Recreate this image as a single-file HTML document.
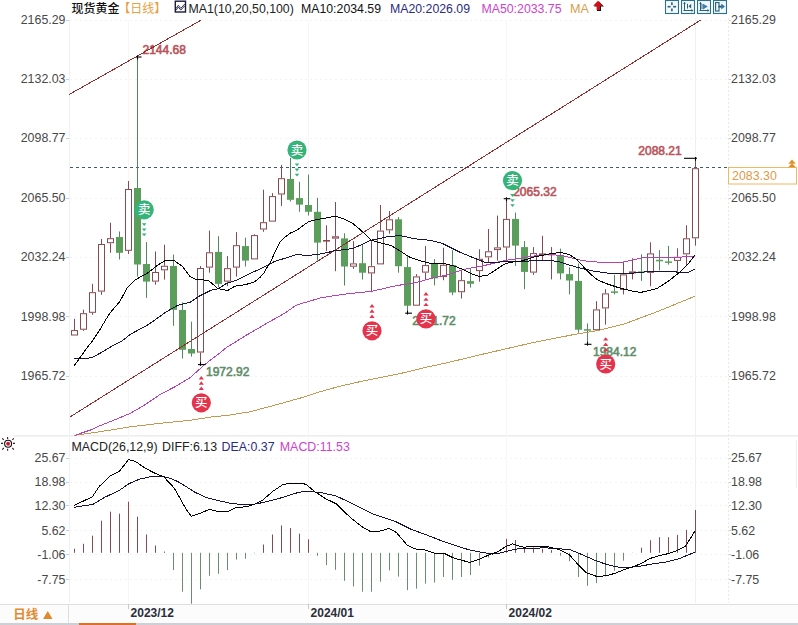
<!DOCTYPE html><html><head><meta charset="utf-8"><style>
html,body{margin:0;padding:0;background:#fff;width:798px;height:625px;overflow:hidden}
svg{display:block;position:absolute;left:0;top:0}
text{font-family:"Liberation Sans", "Noto Sans CJK SC", sans-serif}
</style></head><body>
<svg width="798" height="625" viewBox="0 0 798 625">
<rect x="0" y="0" width="798" height="625" fill="#fff"/>
<rect x="0" y="604" width="798" height="19" fill="#fcfcfc"/>
<rect x="0" y="604" width="798" height="1" fill="#dedede"/>
<rect x="0" y="623" width="798" height="2" fill="#cdd1d6"/>
<rect x="79" y="623" width="57" height="2" fill="#dc7028"/>
<rect x="68" y="605" width="1" height="18" fill="#dedede"/>
<rect x="14" y="435" width="784" height="1.5" fill="#ececec"/>
<line x1="69.5" y1="18" x2="69.5" y2="603" stroke="#f0f1f4" stroke-width="1"/>
<line x1="728.5" y1="18" x2="728.5" y2="603" stroke="#e8e8e8" stroke-width="1" stroke-dasharray="2,2"/>
<line x1="695.5" y1="18" x2="695.5" y2="603" stroke="#f0f0f0" stroke-width="1"/>
<line x1="70" y1="20.5" x2="728" y2="20.5" stroke="#f3f3f3" stroke-width="1" stroke-dasharray="2,3"/>
<line x1="70" y1="79.5" x2="728" y2="79.5" stroke="#f3f3f3" stroke-width="1" stroke-dasharray="2,3"/>
<line x1="70" y1="138.5" x2="728" y2="138.5" stroke="#f3f3f3" stroke-width="1" stroke-dasharray="2,3"/>
<line x1="70" y1="198.5" x2="728" y2="198.5" stroke="#f3f3f3" stroke-width="1" stroke-dasharray="2,3"/>
<line x1="70" y1="257.5" x2="728" y2="257.5" stroke="#f3f3f3" stroke-width="1" stroke-dasharray="2,3"/>
<line x1="70" y1="316.5" x2="728" y2="316.5" stroke="#f3f3f3" stroke-width="1" stroke-dasharray="2,3"/>
<line x1="70" y1="376.5" x2="728" y2="376.5" stroke="#f3f3f3" stroke-width="1" stroke-dasharray="2,3"/>
<line x1="70" y1="458.5" x2="728" y2="458.5" stroke="#f3f3f3" stroke-width="1" stroke-dasharray="2,3"/>
<line x1="66" y1="458.5" x2="69" y2="458.5" stroke="#c8d0d8" stroke-width="1"/>
<line x1="729" y1="458.5" x2="731" y2="458.5" stroke="#c8c8c8" stroke-width="1"/>
<line x1="70" y1="482.5" x2="728" y2="482.5" stroke="#f3f3f3" stroke-width="1" stroke-dasharray="2,3"/>
<line x1="66" y1="482.5" x2="69" y2="482.5" stroke="#c8d0d8" stroke-width="1"/>
<line x1="729" y1="482.5" x2="731" y2="482.5" stroke="#c8c8c8" stroke-width="1"/>
<line x1="70" y1="505.5" x2="728" y2="505.5" stroke="#f3f3f3" stroke-width="1" stroke-dasharray="2,3"/>
<line x1="66" y1="505.5" x2="69" y2="505.5" stroke="#c8d0d8" stroke-width="1"/>
<line x1="729" y1="505.5" x2="731" y2="505.5" stroke="#c8c8c8" stroke-width="1"/>
<line x1="70" y1="530.5" x2="728" y2="530.5" stroke="#f3f3f3" stroke-width="1" stroke-dasharray="2,3"/>
<line x1="66" y1="530.5" x2="69" y2="530.5" stroke="#c8d0d8" stroke-width="1"/>
<line x1="729" y1="530.5" x2="731" y2="530.5" stroke="#c8c8c8" stroke-width="1"/>
<line x1="70" y1="554.5" x2="728" y2="554.5" stroke="#f3f3f3" stroke-width="1" stroke-dasharray="2,3"/>
<line x1="66" y1="554.5" x2="69" y2="554.5" stroke="#c8d0d8" stroke-width="1"/>
<line x1="729" y1="554.5" x2="731" y2="554.5" stroke="#c8c8c8" stroke-width="1"/>
<line x1="70" y1="579.5" x2="728" y2="579.5" stroke="#f3f3f3" stroke-width="1" stroke-dasharray="2,3"/>
<line x1="66" y1="579.5" x2="69" y2="579.5" stroke="#c8d0d8" stroke-width="1"/>
<line x1="729" y1="579.5" x2="731" y2="579.5" stroke="#c8c8c8" stroke-width="1"/>
<line x1="128.5" y1="20" x2="128.5" y2="603" stroke="#f6f6f6" stroke-width="1"/>
<line x1="308.5" y1="20" x2="308.5" y2="603" stroke="#f6f6f6" stroke-width="1"/>
<line x1="506.5" y1="20" x2="506.5" y2="603" stroke="#f6f6f6" stroke-width="1"/>
<line x1="66" y1="20.5" x2="69" y2="20.5" stroke="#c8d0d8" stroke-width="1"/>
<line x1="729" y1="20.5" x2="731" y2="20.5" stroke="#c8c8c8" stroke-width="1"/>
<line x1="66" y1="79.5" x2="69" y2="79.5" stroke="#c8d0d8" stroke-width="1"/>
<line x1="729" y1="79.5" x2="731" y2="79.5" stroke="#c8c8c8" stroke-width="1"/>
<line x1="66" y1="138.5" x2="69" y2="138.5" stroke="#c8d0d8" stroke-width="1"/>
<line x1="729" y1="138.5" x2="731" y2="138.5" stroke="#c8c8c8" stroke-width="1"/>
<line x1="66" y1="198.5" x2="69" y2="198.5" stroke="#c8d0d8" stroke-width="1"/>
<line x1="729" y1="198.5" x2="731" y2="198.5" stroke="#c8c8c8" stroke-width="1"/>
<line x1="66" y1="257.5" x2="69" y2="257.5" stroke="#c8d0d8" stroke-width="1"/>
<line x1="729" y1="257.5" x2="731" y2="257.5" stroke="#c8c8c8" stroke-width="1"/>
<line x1="66" y1="316.5" x2="69" y2="316.5" stroke="#c8d0d8" stroke-width="1"/>
<line x1="729" y1="316.5" x2="731" y2="316.5" stroke="#c8c8c8" stroke-width="1"/>
<line x1="66" y1="376.5" x2="69" y2="376.5" stroke="#c8d0d8" stroke-width="1"/>
<line x1="729" y1="376.5" x2="731" y2="376.5" stroke="#c8c8c8" stroke-width="1"/>
<line x1="70" y1="167.5" x2="728" y2="167.5" stroke="#3d5c6a" stroke-width="1" stroke-dasharray="3,3"/>
<line x1="74.5" y1="318.8" x2="74.5" y2="330.1" stroke="#864a51" stroke-width="1"/>
<rect x="71.5" y="330.6" width="6" height="4.4" fill="#fff" stroke="#864a51" stroke-width="1"/>
<line x1="83.5" y1="309.7" x2="83.5" y2="313.2" stroke="#864a51" stroke-width="1"/>
<line x1="83.5" y1="329.7" x2="83.5" y2="330.8" stroke="#864a51" stroke-width="1"/>
<rect x="80.5" y="313.7" width="6" height="15.5" fill="#fff" stroke="#864a51" stroke-width="1"/>
<line x1="92.5" y1="283.8" x2="92.5" y2="292.2" stroke="#864a51" stroke-width="1"/>
<line x1="92.5" y1="312.8" x2="92.5" y2="314.8" stroke="#864a51" stroke-width="1"/>
<rect x="89.5" y="292.7" width="6" height="19.6" fill="#fff" stroke="#864a51" stroke-width="1"/>
<line x1="101.5" y1="239.0" x2="101.5" y2="244.0" stroke="#864a51" stroke-width="1"/>
<line x1="101.5" y1="291.6" x2="101.5" y2="294.8" stroke="#864a51" stroke-width="1"/>
<rect x="98.5" y="244.5" width="6" height="46.6" fill="#fff" stroke="#864a51" stroke-width="1"/>
<line x1="110.5" y1="222.7" x2="110.5" y2="238.2" stroke="#864a51" stroke-width="1"/>
<line x1="110.5" y1="243.2" x2="110.5" y2="252.8" stroke="#864a51" stroke-width="1"/>
<rect x="107.5" y="238.7" width="6" height="4.0" fill="#fff" stroke="#864a51" stroke-width="1"/>
<line x1="119.5" y1="231.5" x2="119.5" y2="259.5" stroke="#52885c" stroke-width="1"/>
<rect x="116" y="237.0" width="7" height="15.8" fill="#5b9d5b"/>
<line x1="128.5" y1="181.0" x2="128.5" y2="189.0" stroke="#864a51" stroke-width="1"/>
<line x1="128.5" y1="250.8" x2="128.5" y2="254.0" stroke="#864a51" stroke-width="1"/>
<rect x="125.5" y="189.5" width="6" height="60.8" fill="#fff" stroke="#864a51" stroke-width="1"/>
<line x1="137.5" y1="56.3" x2="137.5" y2="276.6" stroke="#52885c" stroke-width="1"/>
<rect x="134" y="188.0" width="7" height="76.5" fill="#5b9d5b"/>
<line x1="146.5" y1="242.0" x2="146.5" y2="297.9" stroke="#52885c" stroke-width="1"/>
<rect x="143" y="264.0" width="7" height="17.6" fill="#5b9d5b"/>
<line x1="155.5" y1="251.5" x2="155.5" y2="272.0" stroke="#864a51" stroke-width="1"/>
<line x1="155.5" y1="281.6" x2="155.5" y2="284.6" stroke="#864a51" stroke-width="1"/>
<rect x="152.5" y="272.5" width="6" height="8.6" fill="#fff" stroke="#864a51" stroke-width="1"/>
<line x1="164.5" y1="244.7" x2="164.5" y2="265.8" stroke="#864a51" stroke-width="1"/>
<line x1="164.5" y1="270.3" x2="164.5" y2="279.6" stroke="#864a51" stroke-width="1"/>
<rect x="161.5" y="266.3" width="6" height="3.5" fill="#fff" stroke="#864a51" stroke-width="1"/>
<line x1="173.5" y1="254.5" x2="173.5" y2="325.8" stroke="#52885c" stroke-width="1"/>
<rect x="170" y="266.0" width="7" height="43.8" fill="#5b9d5b"/>
<line x1="182.5" y1="302.3" x2="182.5" y2="358.6" stroke="#52885c" stroke-width="1"/>
<rect x="179" y="310.0" width="7" height="39.8" fill="#5b9d5b"/>
<line x1="191.5" y1="321.7" x2="191.5" y2="356.6" stroke="#52885c" stroke-width="1"/>
<rect x="188" y="349.0" width="7" height="4.5" fill="#5b9d5b"/>
<line x1="200.5" y1="266.0" x2="200.5" y2="268.0" stroke="#864a51" stroke-width="1"/>
<line x1="200.5" y1="352.5" x2="200.5" y2="364.3" stroke="#864a51" stroke-width="1"/>
<rect x="197.5" y="268.5" width="6" height="83.5" fill="#fff" stroke="#864a51" stroke-width="1"/>
<line x1="209.5" y1="230.6" x2="209.5" y2="252.3" stroke="#864a51" stroke-width="1"/>
<line x1="209.5" y1="267.6" x2="209.5" y2="272.7" stroke="#864a51" stroke-width="1"/>
<rect x="206.5" y="252.8" width="6" height="14.3" fill="#fff" stroke="#864a51" stroke-width="1"/>
<line x1="218.5" y1="236.2" x2="218.5" y2="287.2" stroke="#52885c" stroke-width="1"/>
<rect x="215" y="251.9" width="7" height="32.0" fill="#5b9d5b"/>
<line x1="227.5" y1="256.1" x2="227.5" y2="268.2" stroke="#864a51" stroke-width="1"/>
<line x1="227.5" y1="281.6" x2="227.5" y2="286.1" stroke="#864a51" stroke-width="1"/>
<rect x="224.5" y="268.7" width="6" height="12.4" fill="#fff" stroke="#864a51" stroke-width="1"/>
<line x1="236.5" y1="232.1" x2="236.5" y2="245.2" stroke="#864a51" stroke-width="1"/>
<line x1="236.5" y1="267.6" x2="236.5" y2="276.6" stroke="#864a51" stroke-width="1"/>
<rect x="233.5" y="245.7" width="6" height="21.4" fill="#fff" stroke="#864a51" stroke-width="1"/>
<line x1="245.5" y1="237.7" x2="245.5" y2="266.5" stroke="#52885c" stroke-width="1"/>
<rect x="242" y="246.1" width="7" height="14.5" fill="#5b9d5b"/>
<line x1="254.5" y1="234.3" x2="254.5" y2="235.1" stroke="#864a51" stroke-width="1"/>
<rect x="251.5" y="235.6" width="6" height="23.3" fill="#fff" stroke="#864a51" stroke-width="1"/>
<line x1="263.5" y1="189.7" x2="263.5" y2="222.2" stroke="#864a51" stroke-width="1"/>
<line x1="263.5" y1="229.5" x2="263.5" y2="231.8" stroke="#864a51" stroke-width="1"/>
<rect x="260.5" y="222.7" width="6" height="6.3" fill="#fff" stroke="#864a51" stroke-width="1"/>
<line x1="272.5" y1="193.1" x2="272.5" y2="196.1" stroke="#864a51" stroke-width="1"/>
<rect x="269.5" y="196.6" width="6" height="24.5" fill="#fff" stroke="#864a51" stroke-width="1"/>
<line x1="281.5" y1="165.0" x2="281.5" y2="178.2" stroke="#864a51" stroke-width="1"/>
<line x1="281.5" y1="194.5" x2="281.5" y2="205.9" stroke="#864a51" stroke-width="1"/>
<rect x="278.5" y="178.7" width="6" height="15.3" fill="#fff" stroke="#864a51" stroke-width="1"/>
<line x1="290.5" y1="158.0" x2="290.5" y2="201.5" stroke="#52885c" stroke-width="1"/>
<rect x="287" y="179.0" width="7" height="20.8" fill="#5b9d5b"/>
<line x1="299.5" y1="181.8" x2="299.5" y2="211.8" stroke="#52885c" stroke-width="1"/>
<rect x="296" y="198.1" width="7" height="6.5" fill="#5b9d5b"/>
<line x1="308.5" y1="174.6" x2="308.5" y2="215.5" stroke="#52885c" stroke-width="1"/>
<rect x="305" y="205.0" width="7" height="6.8" fill="#5b9d5b"/>
<line x1="317.5" y1="197.8" x2="317.5" y2="260.7" stroke="#52885c" stroke-width="1"/>
<rect x="314" y="211.8" width="7" height="30.8" fill="#5b9d5b"/>
<line x1="326.5" y1="225.3" x2="326.5" y2="250.9" stroke="#864a51" stroke-width="1"/>
<rect x="323" y="240.0" width="7" height="1.6" fill="#864a51"/>
<line x1="335.5" y1="202.0" x2="335.5" y2="236.3" stroke="#864a51" stroke-width="1"/>
<line x1="335.5" y1="238.6" x2="335.5" y2="271.2" stroke="#864a51" stroke-width="1"/>
<rect x="332.5" y="236.8" width="6" height="1.3" fill="#fff" stroke="#864a51" stroke-width="1"/>
<line x1="344.5" y1="233.3" x2="344.5" y2="285.5" stroke="#52885c" stroke-width="1"/>
<rect x="341" y="238.4" width="7" height="28.1" fill="#5b9d5b"/>
<line x1="353.5" y1="241.1" x2="353.5" y2="263.4" stroke="#864a51" stroke-width="1"/>
<line x1="353.5" y1="266.7" x2="353.5" y2="268.9" stroke="#864a51" stroke-width="1"/>
<rect x="350.5" y="263.9" width="6" height="2.3" fill="#fff" stroke="#864a51" stroke-width="1"/>
<line x1="362.5" y1="244.9" x2="362.5" y2="279.5" stroke="#52885c" stroke-width="1"/>
<rect x="359" y="263.2" width="7" height="9.5" fill="#5b9d5b"/>
<line x1="371.5" y1="241.1" x2="371.5" y2="266.2" stroke="#864a51" stroke-width="1"/>
<line x1="371.5" y1="273.4" x2="371.5" y2="292.2" stroke="#864a51" stroke-width="1"/>
<rect x="368.5" y="266.7" width="6" height="6.2" fill="#fff" stroke="#864a51" stroke-width="1"/>
<line x1="380.5" y1="205.0" x2="380.5" y2="230.6" stroke="#864a51" stroke-width="1"/>
<rect x="377.5" y="231.1" width="6" height="32.8" fill="#fff" stroke="#864a51" stroke-width="1"/>
<line x1="389.5" y1="211.0" x2="389.5" y2="219.3" stroke="#864a51" stroke-width="1"/>
<line x1="389.5" y1="230.3" x2="389.5" y2="233.6" stroke="#864a51" stroke-width="1"/>
<rect x="386.5" y="219.8" width="6" height="10.0" fill="#fff" stroke="#864a51" stroke-width="1"/>
<line x1="398.5" y1="217.0" x2="398.5" y2="272.7" stroke="#52885c" stroke-width="1"/>
<rect x="395" y="219.3" width="7" height="46.9" fill="#5b9d5b"/>
<line x1="407.5" y1="256.1" x2="407.5" y2="313.0" stroke="#52885c" stroke-width="1"/>
<rect x="404" y="267.1" width="7" height="38.6" fill="#5b9d5b"/>
<line x1="416.5" y1="274.1" x2="416.5" y2="276.4" stroke="#864a51" stroke-width="1"/>
<rect x="413.5" y="276.9" width="6" height="28.3" fill="#fff" stroke="#864a51" stroke-width="1"/>
<line x1="425.5" y1="245.9" x2="425.5" y2="265.1" stroke="#864a51" stroke-width="1"/>
<line x1="425.5" y1="272.6" x2="425.5" y2="280.2" stroke="#864a51" stroke-width="1"/>
<rect x="422.5" y="265.6" width="6" height="6.5" fill="#fff" stroke="#864a51" stroke-width="1"/>
<line x1="434.5" y1="259.1" x2="434.5" y2="285.4" stroke="#52885c" stroke-width="1"/>
<rect x="431" y="263.6" width="7" height="14.7" fill="#5b9d5b"/>
<line x1="443.5" y1="247.8" x2="443.5" y2="264.8" stroke="#864a51" stroke-width="1"/>
<line x1="443.5" y1="277.1" x2="443.5" y2="280.2" stroke="#864a51" stroke-width="1"/>
<rect x="440.5" y="265.3" width="6" height="11.3" fill="#fff" stroke="#864a51" stroke-width="1"/>
<line x1="452.5" y1="250.1" x2="452.5" y2="295.2" stroke="#52885c" stroke-width="1"/>
<rect x="449" y="265.1" width="7" height="27.4" fill="#5b9d5b"/>
<line x1="461.5" y1="269.6" x2="461.5" y2="280.2" stroke="#864a51" stroke-width="1"/>
<line x1="461.5" y1="292.2" x2="461.5" y2="298.5" stroke="#864a51" stroke-width="1"/>
<rect x="458.5" y="280.7" width="6" height="11.0" fill="#fff" stroke="#864a51" stroke-width="1"/>
<line x1="470.5" y1="268.6" x2="470.5" y2="287.6" stroke="#52885c" stroke-width="1"/>
<rect x="467" y="281.1" width="7" height="2.7" fill="#5b9d5b"/>
<line x1="479.5" y1="249.3" x2="479.5" y2="258.8" stroke="#864a51" stroke-width="1"/>
<line x1="479.5" y1="271.1" x2="479.5" y2="281.7" stroke="#864a51" stroke-width="1"/>
<rect x="476.5" y="259.3" width="6" height="11.3" fill="#fff" stroke="#864a51" stroke-width="1"/>
<line x1="488.5" y1="229.0" x2="488.5" y2="251.3" stroke="#864a51" stroke-width="1"/>
<line x1="488.5" y1="257.3" x2="488.5" y2="262.1" stroke="#864a51" stroke-width="1"/>
<rect x="485.5" y="251.8" width="6" height="5.0" fill="#fff" stroke="#864a51" stroke-width="1"/>
<line x1="497.5" y1="215.6" x2="497.5" y2="247.4" stroke="#864a51" stroke-width="1"/>
<line x1="497.5" y1="250.1" x2="497.5" y2="260.6" stroke="#864a51" stroke-width="1"/>
<rect x="494.5" y="247.9" width="6" height="1.7" fill="#fff" stroke="#864a51" stroke-width="1"/>
<line x1="506.5" y1="197.6" x2="506.5" y2="218.9" stroke="#864a51" stroke-width="1"/>
<line x1="506.5" y1="247.5" x2="506.5" y2="260.6" stroke="#864a51" stroke-width="1"/>
<rect x="503.5" y="219.4" width="6" height="27.6" fill="#fff" stroke="#864a51" stroke-width="1"/>
<line x1="515.5" y1="212.6" x2="515.5" y2="265.9" stroke="#52885c" stroke-width="1"/>
<rect x="512" y="218.9" width="7" height="26.7" fill="#5b9d5b"/>
<line x1="524.5" y1="241.1" x2="524.5" y2="289.2" stroke="#52885c" stroke-width="1"/>
<rect x="521" y="247.1" width="7" height="24.8" fill="#5b9d5b"/>
<line x1="533.5" y1="247.1" x2="533.5" y2="253.1" stroke="#864a51" stroke-width="1"/>
<line x1="533.5" y1="272.6" x2="533.5" y2="274.9" stroke="#864a51" stroke-width="1"/>
<rect x="530.5" y="253.6" width="6" height="18.5" fill="#fff" stroke="#864a51" stroke-width="1"/>
<line x1="542.5" y1="235.8" x2="542.5" y2="260.6" stroke="#864a51" stroke-width="1"/>
<rect x="539" y="253.4" width="7" height="1.9" fill="#864a51"/>
<line x1="551.5" y1="247.1" x2="551.5" y2="279.4" stroke="#864a51" stroke-width="1"/>
<rect x="548" y="253.8" width="7" height="1.5" fill="#864a51"/>
<line x1="560.5" y1="248.6" x2="560.5" y2="279.4" stroke="#52885c" stroke-width="1"/>
<rect x="557" y="256.1" width="7" height="17.3" fill="#5b9d5b"/>
<line x1="569.5" y1="267.4" x2="569.5" y2="294.4" stroke="#52885c" stroke-width="1"/>
<rect x="566" y="274.1" width="7" height="6.4" fill="#5b9d5b"/>
<line x1="578.5" y1="263.6" x2="578.5" y2="332.7" stroke="#52885c" stroke-width="1"/>
<rect x="575" y="280.9" width="7" height="48.8" fill="#5b9d5b"/>
<line x1="587.5" y1="323.4" x2="587.5" y2="344.5" stroke="#52885c" stroke-width="1"/>
<rect x="584" y="329.2" width="7" height="1.5" fill="#5b9d5b"/>
<line x1="596.5" y1="301.2" x2="596.5" y2="309.4" stroke="#864a51" stroke-width="1"/>
<rect x="593.5" y="309.9" width="6" height="19.8" fill="#fff" stroke="#864a51" stroke-width="1"/>
<line x1="605.5" y1="289.2" x2="605.5" y2="293.4" stroke="#864a51" stroke-width="1"/>
<line x1="605.5" y1="308.4" x2="605.5" y2="324.7" stroke="#864a51" stroke-width="1"/>
<rect x="602.5" y="293.9" width="6" height="14.0" fill="#fff" stroke="#864a51" stroke-width="1"/>
<line x1="614.5" y1="274.9" x2="614.5" y2="294.4" stroke="#52885c" stroke-width="1"/>
<rect x="611" y="291.4" width="7" height="1.5" fill="#5b9d5b"/>
<line x1="623.5" y1="261.4" x2="623.5" y2="274.4" stroke="#864a51" stroke-width="1"/>
<line x1="623.5" y1="289.9" x2="623.5" y2="294.4" stroke="#864a51" stroke-width="1"/>
<rect x="620.5" y="274.9" width="6" height="14.5" fill="#fff" stroke="#864a51" stroke-width="1"/>
<line x1="632.5" y1="258.3" x2="632.5" y2="271.4" stroke="#864a51" stroke-width="1"/>
<line x1="632.5" y1="272.9" x2="632.5" y2="279.4" stroke="#864a51" stroke-width="1"/>
<rect x="629.5" y="271.9" width="6" height="1.0" fill="#fff" stroke="#864a51" stroke-width="1"/>
<line x1="641.5" y1="254.3" x2="641.5" y2="280.9" stroke="#52885c" stroke-width="1"/>
<rect x="638" y="271.4" width="7" height="1.5" fill="#5b9d5b"/>
<line x1="650.5" y1="242.3" x2="650.5" y2="253.4" stroke="#864a51" stroke-width="1"/>
<line x1="650.5" y1="272.9" x2="650.5" y2="286.2" stroke="#864a51" stroke-width="1"/>
<rect x="647.5" y="253.9" width="6" height="18.5" fill="#fff" stroke="#864a51" stroke-width="1"/>
<line x1="659.5" y1="250.1" x2="659.5" y2="270.4" stroke="#52885c" stroke-width="1"/>
<rect x="656" y="259.8" width="7" height="1.5" fill="#5b9d5b"/>
<line x1="668.5" y1="245.9" x2="668.5" y2="264.6" stroke="#52885c" stroke-width="1"/>
<rect x="665" y="261.4" width="7" height="1.5" fill="#5b9d5b"/>
<line x1="677.5" y1="248.3" x2="677.5" y2="256.8" stroke="#864a51" stroke-width="1"/>
<line x1="677.5" y1="260.9" x2="677.5" y2="271.9" stroke="#864a51" stroke-width="1"/>
<rect x="674.5" y="257.3" width="6" height="3.1" fill="#fff" stroke="#864a51" stroke-width="1"/>
<line x1="686.5" y1="225.3" x2="686.5" y2="238.3" stroke="#864a51" stroke-width="1"/>
<line x1="686.5" y1="254.3" x2="686.5" y2="265.1" stroke="#864a51" stroke-width="1"/>
<rect x="683.5" y="238.8" width="6" height="15.0" fill="#fff" stroke="#864a51" stroke-width="1"/>
<line x1="695.5" y1="158.0" x2="695.5" y2="168.2" stroke="#864a51" stroke-width="1"/>
<line x1="695.5" y1="238.3" x2="695.5" y2="245.6" stroke="#864a51" stroke-width="1"/>
<rect x="692.5" y="168.7" width="6" height="69.1" fill="#fff" stroke="#864a51" stroke-width="1"/>
<text x="142.5" y="53.6" fill="#b9545a" stroke="#b9545a" stroke-width="0.6" font-size="12">2144.68</text>
<text x="206.0" y="376.0" fill="#5f8d69" stroke="#5f8d69" stroke-width="0.6" font-size="12">1972.92</text>
<text x="513.2" y="195.8" fill="#b9545a" stroke="#b9545a" stroke-width="0.6" font-size="12">2065.32</text>
<text x="412.2" y="324.6" fill="#5f8d69" stroke="#5f8d69" stroke-width="0.6" font-size="12">2001.72</text>
<text x="593.0" y="355.6" fill="#5f8d69" stroke="#5f8d69" stroke-width="0.6" font-size="12">1984.12</text>
<text x="638.3" y="154.8" fill="#b9545a" stroke="#b9545a" stroke-width="0.6" font-size="12">2088.21</text>
<line x1="69" y1="94.6" x2="201.3" y2="20" stroke="#932c2c" stroke-width="1" shape-rendering="crispEdges"/>
<line x1="70" y1="417" x2="700.8" y2="20" stroke="#932c2c" stroke-width="1" shape-rendering="crispEdges"/>
<g shape-rendering="crispEdges">
<polyline points="74.0,435.4 100.0,431.7 130.0,426.9 160.1,423.3 190.2,420.3 212.7,416.8 227.7,415.3 250.0,411.8 260.1,409.1 280.2,403.7 300.2,398.1 320.2,391.7 340.3,386.1 359.9,381.7 402.6,373.0 426.0,367.3 445.2,363.2 487.8,353.0 530.4,343.2 573.0,334.7 598.6,330.4 624.2,324.0 658.2,311.3 694.7,296.3" fill="none" stroke="#c49850" stroke-width="1"/>
<polyline points="74.8,435.3 91.1,429.8 100.0,425.7 115.0,419.7 130.1,413.4 145.1,404.7 160.2,394.4 175.2,386.6 190.2,377.6 197.7,370.8 205.3,364.1 220.0,352.8 226.4,347.6 246.5,335.1 266.0,323.8 286.0,312.4 296.1,305.2 321.2,297.7 346.3,293.9 371.3,291.4 396.4,285.6 415.0,282.9 430.1,278.6 440.0,276.6 450.0,274.1 460.0,270.6 470.1,268.1 482.1,266.1 490.1,264.1 500.2,261.6 510.2,259.6 520.0,258.3 535.0,255.8 550.1,254.3 565.1,256.1 577.1,259.4 587.7,261.4 602.7,262.4 622.3,262.4 633.1,259.8 642.1,257.9 660.2,257.6 675.2,257.3 687.2,256.8 694.7,256.1" fill="none" stroke="#b444b4" stroke-width="1"/>
<polyline points="74.2,358.3 87.1,358.3 93.1,357.1 101.1,352.6 111.1,346.6 121.1,341.6 130.2,334.5 138.2,330.0 146.0,326.0 151.2,322.6 166.0,312.0 178.0,305.2 190.1,302.2 199.1,296.2 211.1,290.2 218.6,288.6 226.0,283.6 237.3,279.8 248.6,274.2 258.3,269.7 268.1,264.8 275.6,261.0 286.0,258.0 296.0,254.6 307.1,255.4 317.6,254.6 328.1,252.4 335.6,250.4 343.2,249.8 352.2,248.6 361.2,244.9 370.2,240.4 377.7,238.9 388.3,236.6 400.0,235.5 415.0,238.8 430.1,240.3 442.1,243.3 449.6,247.1 460.2,252.3 469.2,256.1 476.7,259.1 484.2,262.1 493.2,262.9 505.3,261.4 520.0,261.6 535.0,260.6 550.1,260.3 559.1,261.8 569.6,265.1 580.2,268.1 595.2,271.4 610.2,273.4 625.3,273.8 645.1,271.9 660.2,271.4 675.2,271.9 687.2,272.9 694.7,269.3" fill="none" stroke="#14143a" stroke-width="1"/>
<polyline points="74.2,365.6 79.0,359.1 86.0,349.1 93.1,340.0 99.1,331.0 105.6,320.0 109.9,313.2 119.9,301.3 127.4,287.5 134.9,280.0 148.7,272.3 157.0,265.5 166.0,260.1 174.1,260.6 182.1,266.1 190.1,276.6 193.1,278.1 196.1,279.3 208.1,280.4 211.1,282.6 217.9,288.6 227.7,290.5 235.0,286.2 244.8,284.7 253.8,282.4 259.8,277.6 264.3,272.7 267.4,266.7 271.1,261.0 275.1,251.6 280.4,241.4 284.1,237.7 290.1,233.2 296.0,230.5 299.5,228.3 308.6,221.6 317.6,219.3 325.1,218.3 334.9,216.0 343.2,218.6 352.2,223.1 359.7,229.1 365.7,234.8 371.7,240.4 382.3,243.4 391.3,245.6 400.0,250.9 409.0,256.8 419.5,260.6 430.1,263.3 445.1,263.9 454.1,265.9 463.2,269.6 470.7,273.4 478.9,276.4 487.2,275.3 496.2,269.6 505.3,263.6 514.3,261.8 520.0,261.4 535.0,256.8 550.1,253.8 560.6,252.3 569.6,254.6 577.1,259.8 584.7,268.1 592.2,275.6 598.2,280.2 607.2,283.9 616.2,286.9 625.3,289.5 634.3,291.4 640.6,292.5 657.1,288.4 667.7,281.7 678.2,273.4 687.2,265.1 694.7,255.3" fill="none" stroke="#000" stroke-width="1"/>
</g>
<line x1="136.0" y1="57.0" x2="141.5" y2="57.0" stroke="#000" stroke-width="1.1"/>
<line x1="137.5" y1="55.7" x2="137.5" y2="59.5" stroke="#000" stroke-width="1.1"/>
<line x1="198.0" y1="364.6" x2="205.5" y2="364.6" stroke="#000" stroke-width="1.1"/>
<line x1="200.5" y1="362.1" x2="200.5" y2="365.9" stroke="#000" stroke-width="1.1"/>
<line x1="503.7" y1="198.7" x2="510.2" y2="198.7" stroke="#000" stroke-width="1.1"/>
<line x1="506.5" y1="197.4" x2="506.5" y2="201.2" stroke="#000" stroke-width="1.1"/>
<line x1="405.2" y1="313.2" x2="412.0" y2="313.2" stroke="#000" stroke-width="1.1"/>
<line x1="407.5" y1="310.7" x2="407.5" y2="314.5" stroke="#000" stroke-width="1.1"/>
<line x1="584.5" y1="344.3" x2="591.5" y2="344.3" stroke="#000" stroke-width="1.1"/>
<line x1="587.5" y1="341.8" x2="587.5" y2="345.6" stroke="#000" stroke-width="1.1"/>
<line x1="684.0" y1="158.3" x2="697.0" y2="158.3" stroke="#000" stroke-width="1.1"/>
<line x1="695.5" y1="157.0" x2="695.5" y2="160.8" stroke="#000" stroke-width="1.1"/>
<polygon points="141.9,223.3 146.5,223.3 144.2,226.1" fill="#35b47a"/>
<polygon points="141.9,228.4 146.5,228.4 144.2,231.2" fill="#35b47a"/>
<polygon points="141.9,233.5 146.5,233.5 144.2,236.3" fill="#35b47a"/>
<circle cx="144.2" cy="209.8" r="9.6" fill="#35b47a"/>
<text x="144.2" y="214.3" fill="#fff" font-size="12.5" font-weight="500" text-anchor="middle" font-family="Liberation Sans, Noto Sans CJK SC, sans-serif">卖</text>
<polygon points="294.7,163.5 299.3,163.5 297.0,166.3" fill="#35b47a"/>
<polygon points="294.7,168.6 299.3,168.6 297.0,171.4" fill="#35b47a"/>
<polygon points="294.7,173.7 299.3,173.7 297.0,176.5" fill="#35b47a"/>
<circle cx="297.0" cy="150.0" r="9.6" fill="#35b47a"/>
<text x="297.0" y="154.5" fill="#fff" font-size="12.5" font-weight="500" text-anchor="middle" font-family="Liberation Sans, Noto Sans CJK SC, sans-serif">卖</text>
<polygon points="510.2,194.1 514.8,194.1 512.5,196.9" fill="#35b47a"/>
<polygon points="510.2,199.2 514.8,199.2 512.5,202.0" fill="#35b47a"/>
<polygon points="510.2,204.3 514.8,204.3 512.5,207.1" fill="#35b47a"/>
<circle cx="512.5" cy="180.6" r="9.6" fill="#35b47a"/>
<text x="512.5" y="185.1" fill="#fff" font-size="12.5" font-weight="500" text-anchor="middle" font-family="Liberation Sans, Noto Sans CJK SC, sans-serif">卖</text>
<polygon points="198.7,379.4 203.9,379.4 201.3,376.0" fill="#e5334c"/>
<polygon points="198.7,384.7 203.9,384.7 201.3,381.3" fill="#e5334c"/>
<polygon points="198.7,390.0 203.9,390.0 201.3,386.6" fill="#e5334c"/>
<circle cx="201.3" cy="402.8" r="9.6" fill="#e5334c"/>
<text x="201.3" y="407.3" fill="#fff" font-size="12.5" font-weight="500" text-anchor="middle" font-family="Liberation Sans, Noto Sans CJK SC, sans-serif">买</text>
<polygon points="369.4,307.4 374.6,307.4 372.0,304.0" fill="#e5334c"/>
<polygon points="369.4,312.7 374.6,312.7 372.0,309.3" fill="#e5334c"/>
<polygon points="369.4,318.0 374.6,318.0 372.0,314.6" fill="#e5334c"/>
<circle cx="372.0" cy="330.8" r="9.6" fill="#e5334c"/>
<text x="372.0" y="335.3" fill="#fff" font-size="12.5" font-weight="500" text-anchor="middle" font-family="Liberation Sans, Noto Sans CJK SC, sans-serif">买</text>
<polygon points="423.4,295.5 428.6,295.5 426.0,292.1" fill="#e5334c"/>
<polygon points="423.4,300.8 428.6,300.8 426.0,297.4" fill="#e5334c"/>
<polygon points="423.4,306.1 428.6,306.1 426.0,302.7" fill="#e5334c"/>
<circle cx="426.0" cy="318.9" r="9.6" fill="#e5334c"/>
<text x="426.0" y="323.4" fill="#fff" font-size="12.5" font-weight="500" text-anchor="middle" font-family="Liberation Sans, Noto Sans CJK SC, sans-serif">买</text>
<polygon points="603.1,340.6 608.3,340.6 605.7,337.2" fill="#e5334c"/>
<polygon points="603.1,345.9 608.3,345.9 605.7,342.5" fill="#e5334c"/>
<polygon points="603.1,351.2 608.3,351.2 605.7,347.8" fill="#e5334c"/>
<circle cx="605.7" cy="364.0" r="9.6" fill="#e5334c"/>
<text x="605.7" y="368.5" fill="#fff" font-size="12.5" font-weight="500" text-anchor="middle" font-family="Liberation Sans, Noto Sans CJK SC, sans-serif">买</text>
<line x1="74.5" y1="548.8" x2="74.5" y2="552.8" stroke="#864a51" stroke-width="1"/>
<line x1="83.5" y1="543.8" x2="83.5" y2="552.8" stroke="#864a51" stroke-width="1"/>
<line x1="92.5" y1="535.7" x2="92.5" y2="552.8" stroke="#864a51" stroke-width="1"/>
<line x1="101.5" y1="520.7" x2="101.5" y2="552.8" stroke="#864a51" stroke-width="1"/>
<line x1="110.5" y1="511.7" x2="110.5" y2="552.8" stroke="#864a51" stroke-width="1"/>
<line x1="119.5" y1="513.7" x2="119.5" y2="552.8" stroke="#864a51" stroke-width="1"/>
<line x1="128.5" y1="501.7" x2="128.5" y2="552.8" stroke="#864a51" stroke-width="1"/>
<line x1="137.5" y1="516.7" x2="137.5" y2="552.8" stroke="#864a51" stroke-width="1"/>
<line x1="146.5" y1="534.5" x2="146.5" y2="552.8" stroke="#864a51" stroke-width="1"/>
<line x1="155.5" y1="545.5" x2="155.5" y2="552.8" stroke="#864a51" stroke-width="1"/>
<line x1="164.5" y1="551.6" x2="164.5" y2="552.8" stroke="#864a51" stroke-width="1"/>
<line x1="173.5" y1="552.8" x2="173.5" y2="570.1" stroke="#6b8e70" stroke-width="1"/>
<line x1="182.5" y1="552.8" x2="182.5" y2="591.7" stroke="#6b8e70" stroke-width="1"/>
<line x1="191.5" y1="552.8" x2="191.5" y2="603.7" stroke="#6b8e70" stroke-width="1"/>
<line x1="200.5" y1="552.8" x2="200.5" y2="589.4" stroke="#6b8e70" stroke-width="1"/>
<line x1="209.5" y1="552.8" x2="209.5" y2="575.8" stroke="#6b8e70" stroke-width="1"/>
<line x1="218.5" y1="552.8" x2="218.5" y2="573.8" stroke="#6b8e70" stroke-width="1"/>
<line x1="227.5" y1="552.8" x2="227.5" y2="570.1" stroke="#6b8e70" stroke-width="1"/>
<line x1="236.5" y1="552.8" x2="236.5" y2="559.6" stroke="#6b8e70" stroke-width="1"/>
<line x1="245.5" y1="552.8" x2="245.5" y2="558.8" stroke="#6b8e70" stroke-width="1"/>
<line x1="254.5" y1="552.8" x2="254.5" y2="553.3" stroke="#6b8e70" stroke-width="1"/>
<line x1="263.5" y1="544.5" x2="263.5" y2="552.8" stroke="#864a51" stroke-width="1"/>
<line x1="272.5" y1="534.5" x2="272.5" y2="552.8" stroke="#864a51" stroke-width="1"/>
<line x1="281.5" y1="525.5" x2="281.5" y2="552.8" stroke="#864a51" stroke-width="1"/>
<line x1="290.5" y1="528.0" x2="290.5" y2="552.8" stroke="#864a51" stroke-width="1"/>
<line x1="299.5" y1="533.7" x2="299.5" y2="552.8" stroke="#864a51" stroke-width="1"/>
<line x1="308.5" y1="539.3" x2="308.5" y2="552.8" stroke="#864a51" stroke-width="1"/>
<line x1="317.5" y1="552.8" x2="317.5" y2="555.8" stroke="#6b8e70" stroke-width="1"/>
<line x1="326.5" y1="552.8" x2="326.5" y2="565.1" stroke="#6b8e70" stroke-width="1"/>
<line x1="335.5" y1="552.8" x2="335.5" y2="569.8" stroke="#6b8e70" stroke-width="1"/>
<line x1="344.5" y1="552.8" x2="344.5" y2="580.8" stroke="#6b8e70" stroke-width="1"/>
<line x1="353.5" y1="552.8" x2="353.5" y2="586.4" stroke="#6b8e70" stroke-width="1"/>
<line x1="362.5" y1="552.8" x2="362.5" y2="591.7" stroke="#6b8e70" stroke-width="1"/>
<line x1="371.5" y1="552.8" x2="371.5" y2="591.7" stroke="#6b8e70" stroke-width="1"/>
<line x1="380.5" y1="552.8" x2="380.5" y2="581.7" stroke="#6b8e70" stroke-width="1"/>
<line x1="389.5" y1="552.8" x2="389.5" y2="570.4" stroke="#6b8e70" stroke-width="1"/>
<line x1="398.5" y1="552.8" x2="398.5" y2="576.6" stroke="#6b8e70" stroke-width="1"/>
<line x1="407.5" y1="552.8" x2="407.5" y2="590.2" stroke="#6b8e70" stroke-width="1"/>
<line x1="416.5" y1="552.8" x2="416.5" y2="588.6" stroke="#6b8e70" stroke-width="1"/>
<line x1="425.5" y1="552.8" x2="425.5" y2="583.6" stroke="#6b8e70" stroke-width="1"/>
<line x1="434.5" y1="552.8" x2="434.5" y2="582.6" stroke="#6b8e70" stroke-width="1"/>
<line x1="443.5" y1="552.8" x2="443.5" y2="577.0" stroke="#6b8e70" stroke-width="1"/>
<line x1="452.5" y1="552.8" x2="452.5" y2="579.8" stroke="#6b8e70" stroke-width="1"/>
<line x1="461.5" y1="552.8" x2="461.5" y2="577.0" stroke="#6b8e70" stroke-width="1"/>
<line x1="470.5" y1="552.8" x2="470.5" y2="575.1" stroke="#6b8e70" stroke-width="1"/>
<line x1="479.5" y1="552.8" x2="479.5" y2="565.7" stroke="#6b8e70" stroke-width="1"/>
<line x1="488.5" y1="552.8" x2="488.5" y2="557.6" stroke="#6b8e70" stroke-width="1"/>
<line x1="497.5" y1="552.8" x2="497.5" y2="553.2" stroke="#6b8e70" stroke-width="1"/>
<line x1="506.5" y1="538.8" x2="506.5" y2="552.8" stroke="#864a51" stroke-width="1"/>
<line x1="515.5" y1="540.0" x2="515.5" y2="552.8" stroke="#864a51" stroke-width="1"/>
<line x1="524.5" y1="547.6" x2="524.5" y2="552.8" stroke="#864a51" stroke-width="1"/>
<line x1="533.5" y1="547.6" x2="533.5" y2="552.8" stroke="#864a51" stroke-width="1"/>
<line x1="542.5" y1="548.8" x2="542.5" y2="552.8" stroke="#864a51" stroke-width="1"/>
<line x1="551.5" y1="550.1" x2="551.5" y2="552.8" stroke="#864a51" stroke-width="1"/>
<line x1="560.5" y1="552.8" x2="560.5" y2="555.7" stroke="#6b8e70" stroke-width="1"/>
<line x1="569.5" y1="552.8" x2="569.5" y2="561.3" stroke="#6b8e70" stroke-width="1"/>
<line x1="578.5" y1="552.8" x2="578.5" y2="577.0" stroke="#6b8e70" stroke-width="1"/>
<line x1="587.5" y1="552.8" x2="587.5" y2="585.8" stroke="#6b8e70" stroke-width="1"/>
<line x1="596.5" y1="552.8" x2="596.5" y2="583.2" stroke="#6b8e70" stroke-width="1"/>
<line x1="605.5" y1="552.8" x2="605.5" y2="576.5" stroke="#6b8e70" stroke-width="1"/>
<line x1="614.5" y1="552.8" x2="614.5" y2="570.9" stroke="#6b8e70" stroke-width="1"/>
<line x1="623.5" y1="552.8" x2="623.5" y2="560.7" stroke="#6b8e70" stroke-width="1"/>
<line x1="632.5" y1="552.8" x2="632.5" y2="553.0" stroke="#6b8e70" stroke-width="1"/>
<line x1="641.5" y1="547.7" x2="641.5" y2="552.8" stroke="#864a51" stroke-width="1"/>
<line x1="650.5" y1="540.2" x2="650.5" y2="552.8" stroke="#864a51" stroke-width="1"/>
<line x1="659.5" y1="537.2" x2="659.5" y2="552.8" stroke="#864a51" stroke-width="1"/>
<line x1="668.5" y1="537.2" x2="668.5" y2="552.8" stroke="#864a51" stroke-width="1"/>
<line x1="677.5" y1="534.9" x2="677.5" y2="552.8" stroke="#864a51" stroke-width="1"/>
<line x1="686.5" y1="530.0" x2="686.5" y2="552.8" stroke="#864a51" stroke-width="1"/>
<line x1="695.5" y1="510.0" x2="695.5" y2="552.8" stroke="#864a51" stroke-width="1"/>
<g shape-rendering="crispEdges">
<polyline points="74.3,507.3 93.1,504.3 105.1,497.1 118.6,490.8 129.2,483.6 139.7,479.1 150.2,476.8 159.2,476.1 168.3,477.6 177.3,481.3 186.0,486.5 195.0,492.3 207.1,497.8 219.1,500.8 231.1,503.4 243.1,504.6 253.7,504.3 264.2,502.3 276.2,499.3 288.3,495.6 298.8,492.3 306.0,491.1 321.0,492.6 336.1,495.9 351.1,503.1 363.1,509.1 373.7,514.4 385.7,518.1 396.2,521.9 411.3,529.4 426.0,534.7 446.0,542.5 470.0,550.1 480.0,552.0 492.6,554.1 501.3,552.8 515.1,549.1 526.4,548.6 545.2,547.8 557.7,548.6 570.5,549.8 581.0,554.2 595.1,560.4 607.4,564.7 617.9,567.0 630.2,567.4 640.7,566.0 653.0,563.9 665.3,562.1 679.3,558.6 695.1,552.1" fill="none" stroke="#14143a" stroke-width="1"/>
<polyline points="74.3,505.4 92.3,496.8 99.1,486.6 110.4,475.8 119.4,471.2 123.9,465.5 128.4,459.5 135.2,461.3 145.7,468.5 154.7,473.1 163.7,476.8 174.3,488.1 186.0,509.0 191.3,516.3 201.0,512.9 209.3,509.4 217.6,511.4 228.1,511.4 235.6,507.6 246.2,506.8 253.7,504.6 262.7,500.1 273.2,491.1 282.2,485.0 289.8,483.2 300.3,483.2 306.0,484.3 315.0,491.8 325.5,498.6 336.1,503.8 340.6,508.3 351.1,518.1 361.6,526.4 370.7,531.7 381.2,530.9 388.7,528.3 396.2,532.4 402.2,539.2 406.8,544.8 415.0,548.9 425.6,550.1 434.6,553.1 443.6,553.1 452.6,557.6 461.7,560.3 469.9,562.4 479.7,559.1 490.2,554.3 497.7,551.9 505.3,546.8 512.8,543.8 520.0,546.3 523.9,547.3 532.7,546.3 545.2,546.3 552.7,547.8 560.2,550.1 568.8,554.2 577.5,563.9 586.3,572.6 596.8,576.5 605.6,575.8 614.4,573.5 623.2,570.0 631.9,567.0 640.7,563.9 649.5,558.6 658.2,556.0 667.0,553.9 675.8,551.2 685.4,546.3 695.1,530.9" fill="none" stroke="#000" stroke-width="1"/>
</g>
<text x="65.5" y="23.7" fill="#484848" font-size="12.4"  text-anchor="end">2165.29</text>
<text x="731.0" y="23.7" fill="#484848" font-size="12.4"  text-anchor="start">2165.29</text>
<text x="65.5" y="83.0" fill="#484848" font-size="12.4"  text-anchor="end">2132.03</text>
<text x="731.0" y="83.0" fill="#484848" font-size="12.4"  text-anchor="start">2132.03</text>
<text x="65.5" y="142.4" fill="#484848" font-size="12.4"  text-anchor="end">2098.77</text>
<text x="731.0" y="142.4" fill="#484848" font-size="12.4"  text-anchor="start">2098.77</text>
<text x="65.5" y="201.8" fill="#484848" font-size="12.4"  text-anchor="end">2065.50</text>
<text x="731.0" y="201.8" fill="#484848" font-size="12.4"  text-anchor="start">2065.50</text>
<text x="65.5" y="261.0" fill="#484848" font-size="12.4"  text-anchor="end">2032.24</text>
<text x="731.0" y="261.0" fill="#484848" font-size="12.4"  text-anchor="start">2032.24</text>
<text x="65.5" y="320.5" fill="#484848" font-size="12.4"  text-anchor="end">1998.98</text>
<text x="731.0" y="320.5" fill="#484848" font-size="12.4"  text-anchor="start">1998.98</text>
<text x="65.5" y="379.9" fill="#484848" font-size="12.4"  text-anchor="end">1965.72</text>
<text x="731.0" y="379.9" fill="#484848" font-size="12.4"  text-anchor="start">1965.72</text>
<text x="65.5" y="462.1" fill="#484848" font-size="12.4"  text-anchor="end">25.67</text>
<text x="731.0" y="462.1" fill="#484848" font-size="12.4"  text-anchor="start">25.67</text>
<text x="65.5" y="486.1" fill="#484848" font-size="12.4"  text-anchor="end">18.98</text>
<text x="731.0" y="486.1" fill="#484848" font-size="12.4"  text-anchor="start">18.98</text>
<text x="65.5" y="509.7" fill="#484848" font-size="12.4"  text-anchor="end">12.30</text>
<text x="731.0" y="509.7" fill="#484848" font-size="12.4"  text-anchor="start">12.30</text>
<text x="65.5" y="534.7" fill="#484848" font-size="12.4"  text-anchor="end">5.62</text>
<text x="731.0" y="534.7" fill="#484848" font-size="12.4"  text-anchor="start">5.62</text>
<text x="65.5" y="558.8" fill="#484848" font-size="12.4"  text-anchor="end">-1.06</text>
<text x="731.0" y="558.8" fill="#484848" font-size="12.4"  text-anchor="start">-1.06</text>
<text x="65.5" y="583.7" fill="#484848" font-size="12.4"  text-anchor="end">-7.75</text>
<text x="731.0" y="583.7" fill="#484848" font-size="12.4"  text-anchor="start">-7.75</text>
<line x1="796.5" y1="440" x2="796.5" y2="488" stroke="#eeeeee" stroke-width="1"/>
<rect x="728.5" y="167.5" width="68" height="16.5" fill="#fff" stroke="#f0b860" stroke-width="1"/>
<text x="732.0" y="179.8" fill="#e09a48" font-size="12.4"  text-anchor="start">2083.30</text>
<polygon points="788.3,163.8 795.7,163.8 792,159.6" fill="#e38f22"/><polygon points="788.3,167.2 795.7,167.2 792,163.2" fill="#e38f22"/>
<text x="71.5" y="13" fill="#111" font-size="12" font-weight="500">现货黄金</text>
<text x="118.2" y="13.0" fill="#e8a040" font-size="12"  text-anchor="start">【日线】</text>
<rect x="175.3" y="1.2" width="10.2" height="10.8" fill="#fff" stroke="#1a1a40" stroke-width="1.4"/>
<polyline points="176,8.5 178.3,5.3 180.8,8.3 184.8,4" fill="none" stroke="#1a1a40" stroke-width="0.9"/>
<polyline points="176,10.3 178.3,7.1 180.8,10.1 184.8,5.8" fill="none" stroke="#1a1a40" stroke-width="0.9"/>
<text x="188.5" y="13.0" fill="#222" font-size="12.3"  text-anchor="start">MA1(10,20,50,100)</text>
<text x="301.0" y="13.0" fill="#111" font-size="12.3"  text-anchor="start">MA10:2034.59</text>
<text x="390.0" y="13.0" fill="#2b2b80" font-size="12.3"  text-anchor="start">MA20:2026.09</text>
<text x="481.5" y="13.0" fill="#cc44cc" font-size="12.3"  text-anchor="start">MA50:2033.75</text>
<text x="570.0" y="13.0" fill="#d9a050" font-size="12.6"  text-anchor="start">MA</text>
<polygon points="599,1.6 604,6.6 601,6.6 601,11 597,11 597,6.6 594,6.6" fill="#111"/>
<polygon points="598,0.8 603,5.8 600,5.8 600,10 596.6,10 596.6,5.8 593.2,5.8" fill="#d01018"/>
<rect x="665.5" y="0.5" width="13" height="13" fill="#f2f9fc" stroke="#2f6f88" stroke-width="1.1"/>
<rect x="681.5" y="0.5" width="13" height="13" fill="#f2f9fc" stroke="#2f6f88" stroke-width="1.1"/>
<rect x="697.5" y="0.5" width="13" height="13" fill="#f2f9fc" stroke="#2f6f88" stroke-width="1.1"/>
<rect x="713.5" y="0.5" width="13" height="13" fill="#f2f9fc" stroke="#2f6f88" stroke-width="1.1"/>
<g fill="#2a5f7a"><rect x="667.6" y="5.9" width="3" height="1.6"/><rect x="673.1" y="5.9" width="3" height="1.6"/><rect x="671.1" y="2.3" width="1.6" height="2.8"/><rect x="671.1" y="8.5" width="1.6" height="2.8"/></g>
<g stroke="#2a5f7a" stroke-width="1" fill="#2a5f7a"><line x1="684.5" y1="2.5" x2="684.5" y2="11"/><line x1="683.5" y1="10.5" x2="692.8" y2="10.5"/><line x1="687.5" y1="3.8" x2="687.5" y2="8.6"/><polygon points="691.2,3.8 691.2,8.6 688.5,6.2" stroke="none"/><polyline points="683.3,3.6 684.5,2.4 685.7,3.6" fill="none"/><polyline points="691.6,9.3 692.8,10.5 691.6,11.7" fill="none"/></g>
<g stroke="#2a5f7a" stroke-width="1" fill="#2a5f7a"><line x1="700.5" y1="2.5" x2="700.5" y2="11"/><line x1="699.5" y1="10.5" x2="708.8" y2="10.5"/><line x1="702" y1="4" x2="702" y2="9.2"/><polygon points="703,3.8 703,9.4 707.8,6.6" stroke="none" fill="#3a7fae"/><polyline points="699.3,3.6 700.5,2.4 701.7,3.6" fill="none"/><polyline points="707.6,9.3 708.8,10.5 707.6,11.7" fill="none"/></g>
<g stroke="#2a5f7a" stroke-width="1.1" fill="#2a5f7a"><rect x="715.6" y="2.6" width="3.4" height="8.4" fill="none"/><line x1="718.3" y1="6.6" x2="722" y2="6.6" stroke-width="2"/><polygon points="721.3,3.6 721.3,9.6 725,6.6" stroke="none" fill="#2f78a8"/></g>
<text x="71.5" y="451.0" fill="#222" font-size="12.4"  text-anchor="start">MACD(26,12,9)</text>
<text x="162.0" y="451.0" fill="#222" font-size="12.4"  text-anchor="start">DIFF:6.13</text>
<text x="221.6" y="451.0" fill="#2b2b80" font-size="12.4"  text-anchor="start">DEA:0.37</text>
<text x="279.8" y="451.0" fill="#cc44cc" font-size="12.4"  text-anchor="start">MACD:11.53</text>
<circle cx="8.1" cy="443.8" r="3.5" fill="#fff" stroke="#111" stroke-width="1.1"/>
<circle cx="8.1" cy="443.8" r="2" fill="#c42038"/>
<line x1="7.6" y1="437.0" x2="7.6" y2="439.0" stroke="#3a2020" stroke-width="1.1"/>
<line x1="7.6" y1="448.8" x2="7.6" y2="450.8" stroke="#3a2020" stroke-width="1.1"/>
<line x1="1.0" y1="443.4" x2="3.0" y2="443.4" stroke="#3a2020" stroke-width="1.1"/>
<line x1="13.0" y1="443.4" x2="15.0" y2="443.4" stroke="#3a2020" stroke-width="1.1"/>
<line x1="2.2" y1="438.3" x2="3.8" y2="439.9" stroke="#3a2020" stroke-width="1.1"/>
<line x1="13.9" y1="438.3" x2="12.3" y2="439.9" stroke="#3a2020" stroke-width="1.1"/>
<line x1="2.2" y1="449.6" x2="3.8" y2="448.0" stroke="#3a2020" stroke-width="1.1"/>
<line x1="13.9" y1="449.6" x2="12.3" y2="448.0" stroke="#3a2020" stroke-width="1.1"/>
<text x="13.3" y="619.0" fill="#e08a30" font-size="12.5" font-weight="bold" text-anchor="start">日线</text>
<polygon points="43,619 52.5,619 47.75,611" fill="#e08a30"/>
<text x="130.6" y="617.0" fill="#2a2e3a" font-size="12" font-weight="bold" text-anchor="start">2023/12</text>
<text x="310.6" y="617.0" fill="#2a2e3a" font-size="12" font-weight="bold" text-anchor="start">2024/01</text>
<text x="508.6" y="617.0" fill="#2a2e3a" font-size="12" font-weight="bold" text-anchor="start">2024/02</text>
<line x1="128.5" y1="604" x2="128.5" y2="609" stroke="#c8c8c8" stroke-width="1"/>
<line x1="308.5" y1="604" x2="308.5" y2="609" stroke="#c8c8c8" stroke-width="1"/>
<line x1="506.5" y1="604" x2="506.5" y2="609" stroke="#c8c8c8" stroke-width="1"/>
</svg></body></html>
